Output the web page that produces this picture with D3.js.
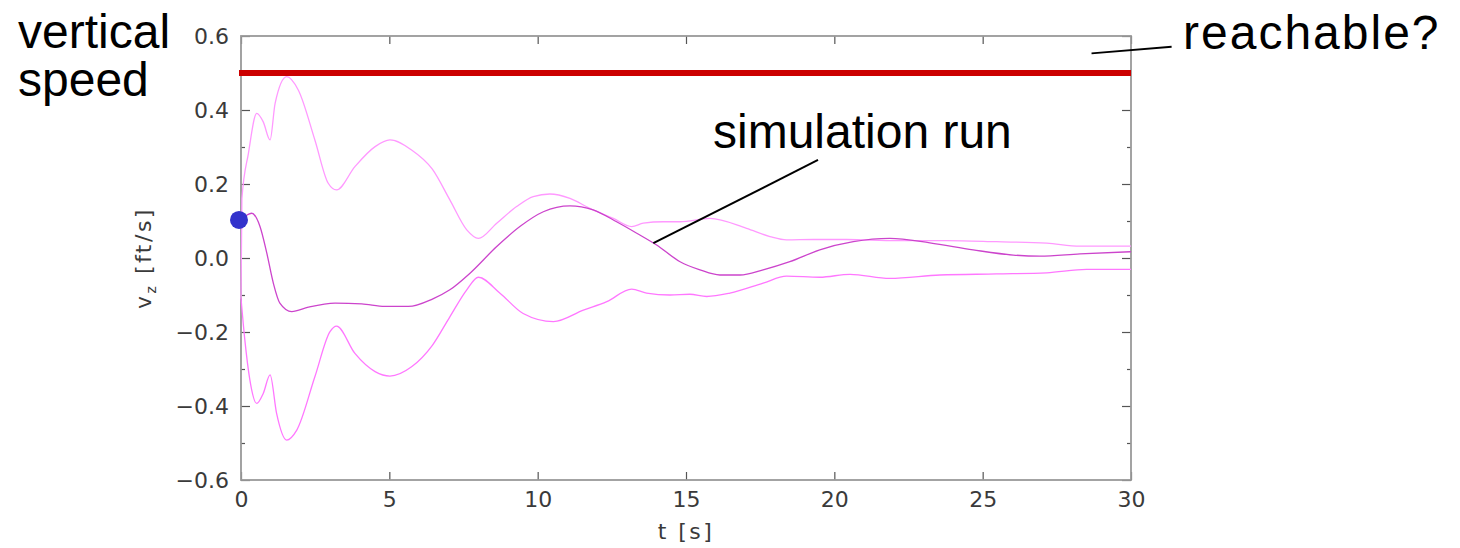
<!DOCTYPE html>
<html>
<head>
<meta charset="utf-8">
<script src="https://cdn.jsdelivr.net/npm/d3@7"></script>
<style>
  html, body { margin: 0; padding: 0; background: #fff; }
  svg { display: block; }
  .tick text { font-family: "DejaVu Sans", sans-serif; font-size: 22px; fill: #3a3a3a; }
  .note { font-family: "Liberation Sans", Arial, sans-serif; font-size: 48px; fill: #000; }
</style>
</head>
<body>
<svg id="chart"></svg>
<script>
// data: [t (s), vz (ft/s)]
const upperEnvelope = [
  [0, -0.11], [0.03, 0.16], [0.25, 0.283], [0.53, 0.391], [0.75, 0.368], [0.98, 0.319],
  [1.15, 0.418], [1.54, 0.49], [1.93, 0.454], [2.49, 0.319], [2.94, 0.202], [3.22, 0.184],
  [3.84, 0.247], [4.52, 0.301], [5.02, 0.319], [5.75, 0.292], [6.45, 0.24], [7.04, 0.157],
  [7.61, 0.076], [8.0, 0.053], [8.62, 0.094], [9.29, 0.139], [9.85, 0.166], [10.41, 0.173],
  [11.09, 0.161], [11.76, 0.134], [12.55, 0.107], [13.17, 0.085], [13.56, 0.094],
  [14.23, 0.098], [14.8, 0.098], [15.81, 0.107], [17.04, 0.08], [17.83, 0.058],
  [18.39, 0.049], [19.29, 0.05], [20.41, 0.05], [22.1, 0.047], [23.79, 0.047],
  [25.47, 0.044], [27.16, 0.04], [28.28, 0.032], [30, 0.032]
];
const simulationRun = [
  [0, 0.103], [0.36, 0.121], [0.64, 0.085], [0.87, 0.013], [1.09, -0.068], [1.31, -0.122],
  [1.71, -0.145], [2.27, -0.133], [3.17, -0.122], [4.07, -0.124], [4.85, -0.131],
  [5.64, -0.131], [6.45, -0.111], [7.04, -0.086], [7.72, -0.041], [8.62, 0.031],
  [9.4, 0.085], [10.19, 0.125], [11.09, 0.141], [11.87, 0.13], [12.66, 0.098],
  [13.34, 0.067], [14.01, 0.035], [14.8, -0.01], [15.47, -0.032], [16.14, -0.046],
  [16.82, -0.046], [17.6, -0.032], [18.5, -0.01], [19.51, 0.022], [20.64, 0.044],
  [21.87, 0.053], [23.22, 0.041], [24.68, 0.022], [26.03, 0.008], [26.93, 0.005],
  [28.28, 0.011], [30, 0.017]
];
const lowerEnvelope = [
  [0, -0.109], [0.13, -0.222], [0.3, -0.33], [0.53, -0.393], [0.75, -0.366], [0.98, -0.316],
  [1.2, -0.42], [1.54, -0.492], [1.88, -0.465], [2.49, -0.321], [3.0, -0.199], [3.22, -0.184],
  [3.84, -0.258], [4.52, -0.307], [5.02, -0.319], [5.75, -0.294], [6.45, -0.236],
  [7.04, -0.159], [7.61, -0.086], [8.0, -0.052], [8.73, -0.095], [9.51, -0.15],
  [10.53, -0.172], [11.54, -0.141], [12.33, -0.118], [13.17, -0.084], [13.67, -0.095],
  [14.46, -0.1], [15.13, -0.098], [15.7, -0.104], [16.48, -0.095], [17.6, -0.068],
  [18.39, -0.049], [19.51, -0.052], [20.53, -0.044], [21.87, -0.055], [23.56, -0.046],
  [25.47, -0.043], [27.16, -0.04], [28.5, -0.031], [30, -0.031]
];
const reachableLevel = 0.5;
const startPoint = [0, 0.103];
const xTicks = [0, 5, 10, 15, 20, 25, 30];
const yMajorTicks = [-0.6, -0.4, -0.2, 0.0, 0.2, 0.4, 0.6];
const yMinorTicks = [-0.5, -0.3, -0.1, 0.1, 0.3, 0.5];

const width = 1460, height = 548;
const svg = d3.select('#chart').attr('width', width).attr('height', height);
svg.append('rect').attr('width', width).attr('height', height).attr('fill', '#fff');

const x = d3.scaleLinear().domain([0, 30]).range([241, 1131]);
const y = d3.scaleLinear().domain([-0.6, 0.6]).range([480, 36]);

// axes, ticks point inward
const fmtY = d3.format('.1f');
function styleAxis(g) {
  g.select('.domain').remove();
  g.selectAll('.tick line').attr('stroke', '#555').attr('stroke-width', 1.2);
}
svg.append('g').attr('transform', `translate(0,${y(-0.6)})`)
  .call(d3.axisBottom(x).tickValues(xTicks).tickSize(-8).tickPadding(11).tickFormat(d3.format('d')))
  .call(styleAxis);
svg.append('g').attr('transform', `translate(0,${y(0.6)})`)
  .call(d3.axisTop(x).tickValues(xTicks).tickSize(-8).tickFormat(''))
  .call(styleAxis);
svg.append('g').attr('transform', `translate(${x(0)},0)`)
  .call(d3.axisLeft(y).tickValues(yMajorTicks).tickSize(-9).tickPadding(12).tickFormat(fmtY))
  .call(styleAxis);
svg.append('g').attr('transform', `translate(${x(0)},0)`)
  .call(d3.axisLeft(y).tickValues(yMinorTicks).tickSize(-4).tickFormat(''))
  .call(styleAxis);
svg.append('g').attr('transform', `translate(${x(30)},0)`)
  .call(d3.axisRight(y).tickValues(yMajorTicks).tickSize(-9).tickFormat(''))
  .call(styleAxis);
svg.append('g').attr('transform', `translate(${x(30)},0)`)
  .call(d3.axisRight(y).tickValues(yMinorTicks).tickSize(-4).tickFormat(''))
  .call(styleAxis);

// frame
svg.append('rect')
  .attr('x', x(0)).attr('y', y(0.6))
  .attr('width', x(30) - x(0)).attr('height', y(-0.6) - y(0.6))
  .attr('fill', 'none').attr('stroke', '#999').attr('stroke-width', 1.8);

// axis titles
svg.append('text')
  .attr('x', (x(0) + x(30)) / 2).attr('y', 539)
  .attr('text-anchor', 'middle')
  .style('font-family', '"DejaVu Sans", sans-serif').style('font-size', '22px')
  .style('letter-spacing', '2.5px').attr('fill', '#3a3a3a')
  .text('t [s]');
const yTitle = svg.append('text')
  .attr('transform', `translate(151,${y(0)}) rotate(-90)`)
  .attr('text-anchor', 'middle')
  .style('font-family', '"DejaVu Sans", sans-serif').style('font-size', '22px')
  .style('letter-spacing', '2.5px').attr('fill', '#3a3a3a');
yTitle.append('tspan').text('v');
yTitle.append('tspan').attr('font-size', '14px').attr('dy', 5).text('z');
yTitle.append('tspan').attr('dy', -5).text(' [ft/s]');

// curves
const line = d3.line().x(d => x(d[0])).y(d => y(d[1])).curve(d3.curveMonotoneX);
svg.append('path').datum(upperEnvelope).attr('d', line)
  .attr('fill', 'none').attr('stroke', '#ff99ff').attr('stroke-width', 1.3);
svg.append('path').datum(lowerEnvelope).attr('d', line)
  .attr('fill', 'none').attr('stroke', '#ff77ff').attr('stroke-width', 1.3);
svg.append('path').datum(simulationRun).attr('d', line)
  .attr('fill', 'none').attr('stroke', '#cc44cc').attr('stroke-width', 1.3);

// reachable level
svg.append('line')
  .attr('x1', x(0) - 2).attr('x2', x(30))
  .attr('y1', y(reachableLevel)).attr('y2', y(reachableLevel))
  .attr('stroke', '#cc0000').attr('stroke-width', 6);

// start point
svg.append('circle')
  .attr('cx', x(startPoint[0]) - 2).attr('cy', y(startPoint[1]))
  .attr('r', 9).attr('fill', '#3333cc');

// annotations
svg.append('text').attr('class', 'note').attr('x', 18).attr('y', 48).text('vertical');
svg.append('text').attr('class', 'note').attr('x', 18).attr('y', 96).text('speed');
svg.append('text').attr('class', 'note').attr('x', 713).attr('y', 148).text('simulation run');
svg.append('text').attr('class', 'note').attr('x', 1183).attr('y', 49)
  .style('letter-spacing', '2px').text('reachable?');

svg.append('line')
  .attr('x1', x(13.9)).attr('y1', y(0.04))
  .attr('x2', x(19.45)).attr('y2', y(0.265))
  .attr('stroke', '#000').attr('stroke-width', 2);
svg.append('line')
  .attr('x1', x(28.67)).attr('y1', y(0.553))
  .attr('x2', x(31.37)).attr('y2', y(0.571))
  .attr('stroke', '#000').attr('stroke-width', 1.8);
</script>
</body>
</html>
